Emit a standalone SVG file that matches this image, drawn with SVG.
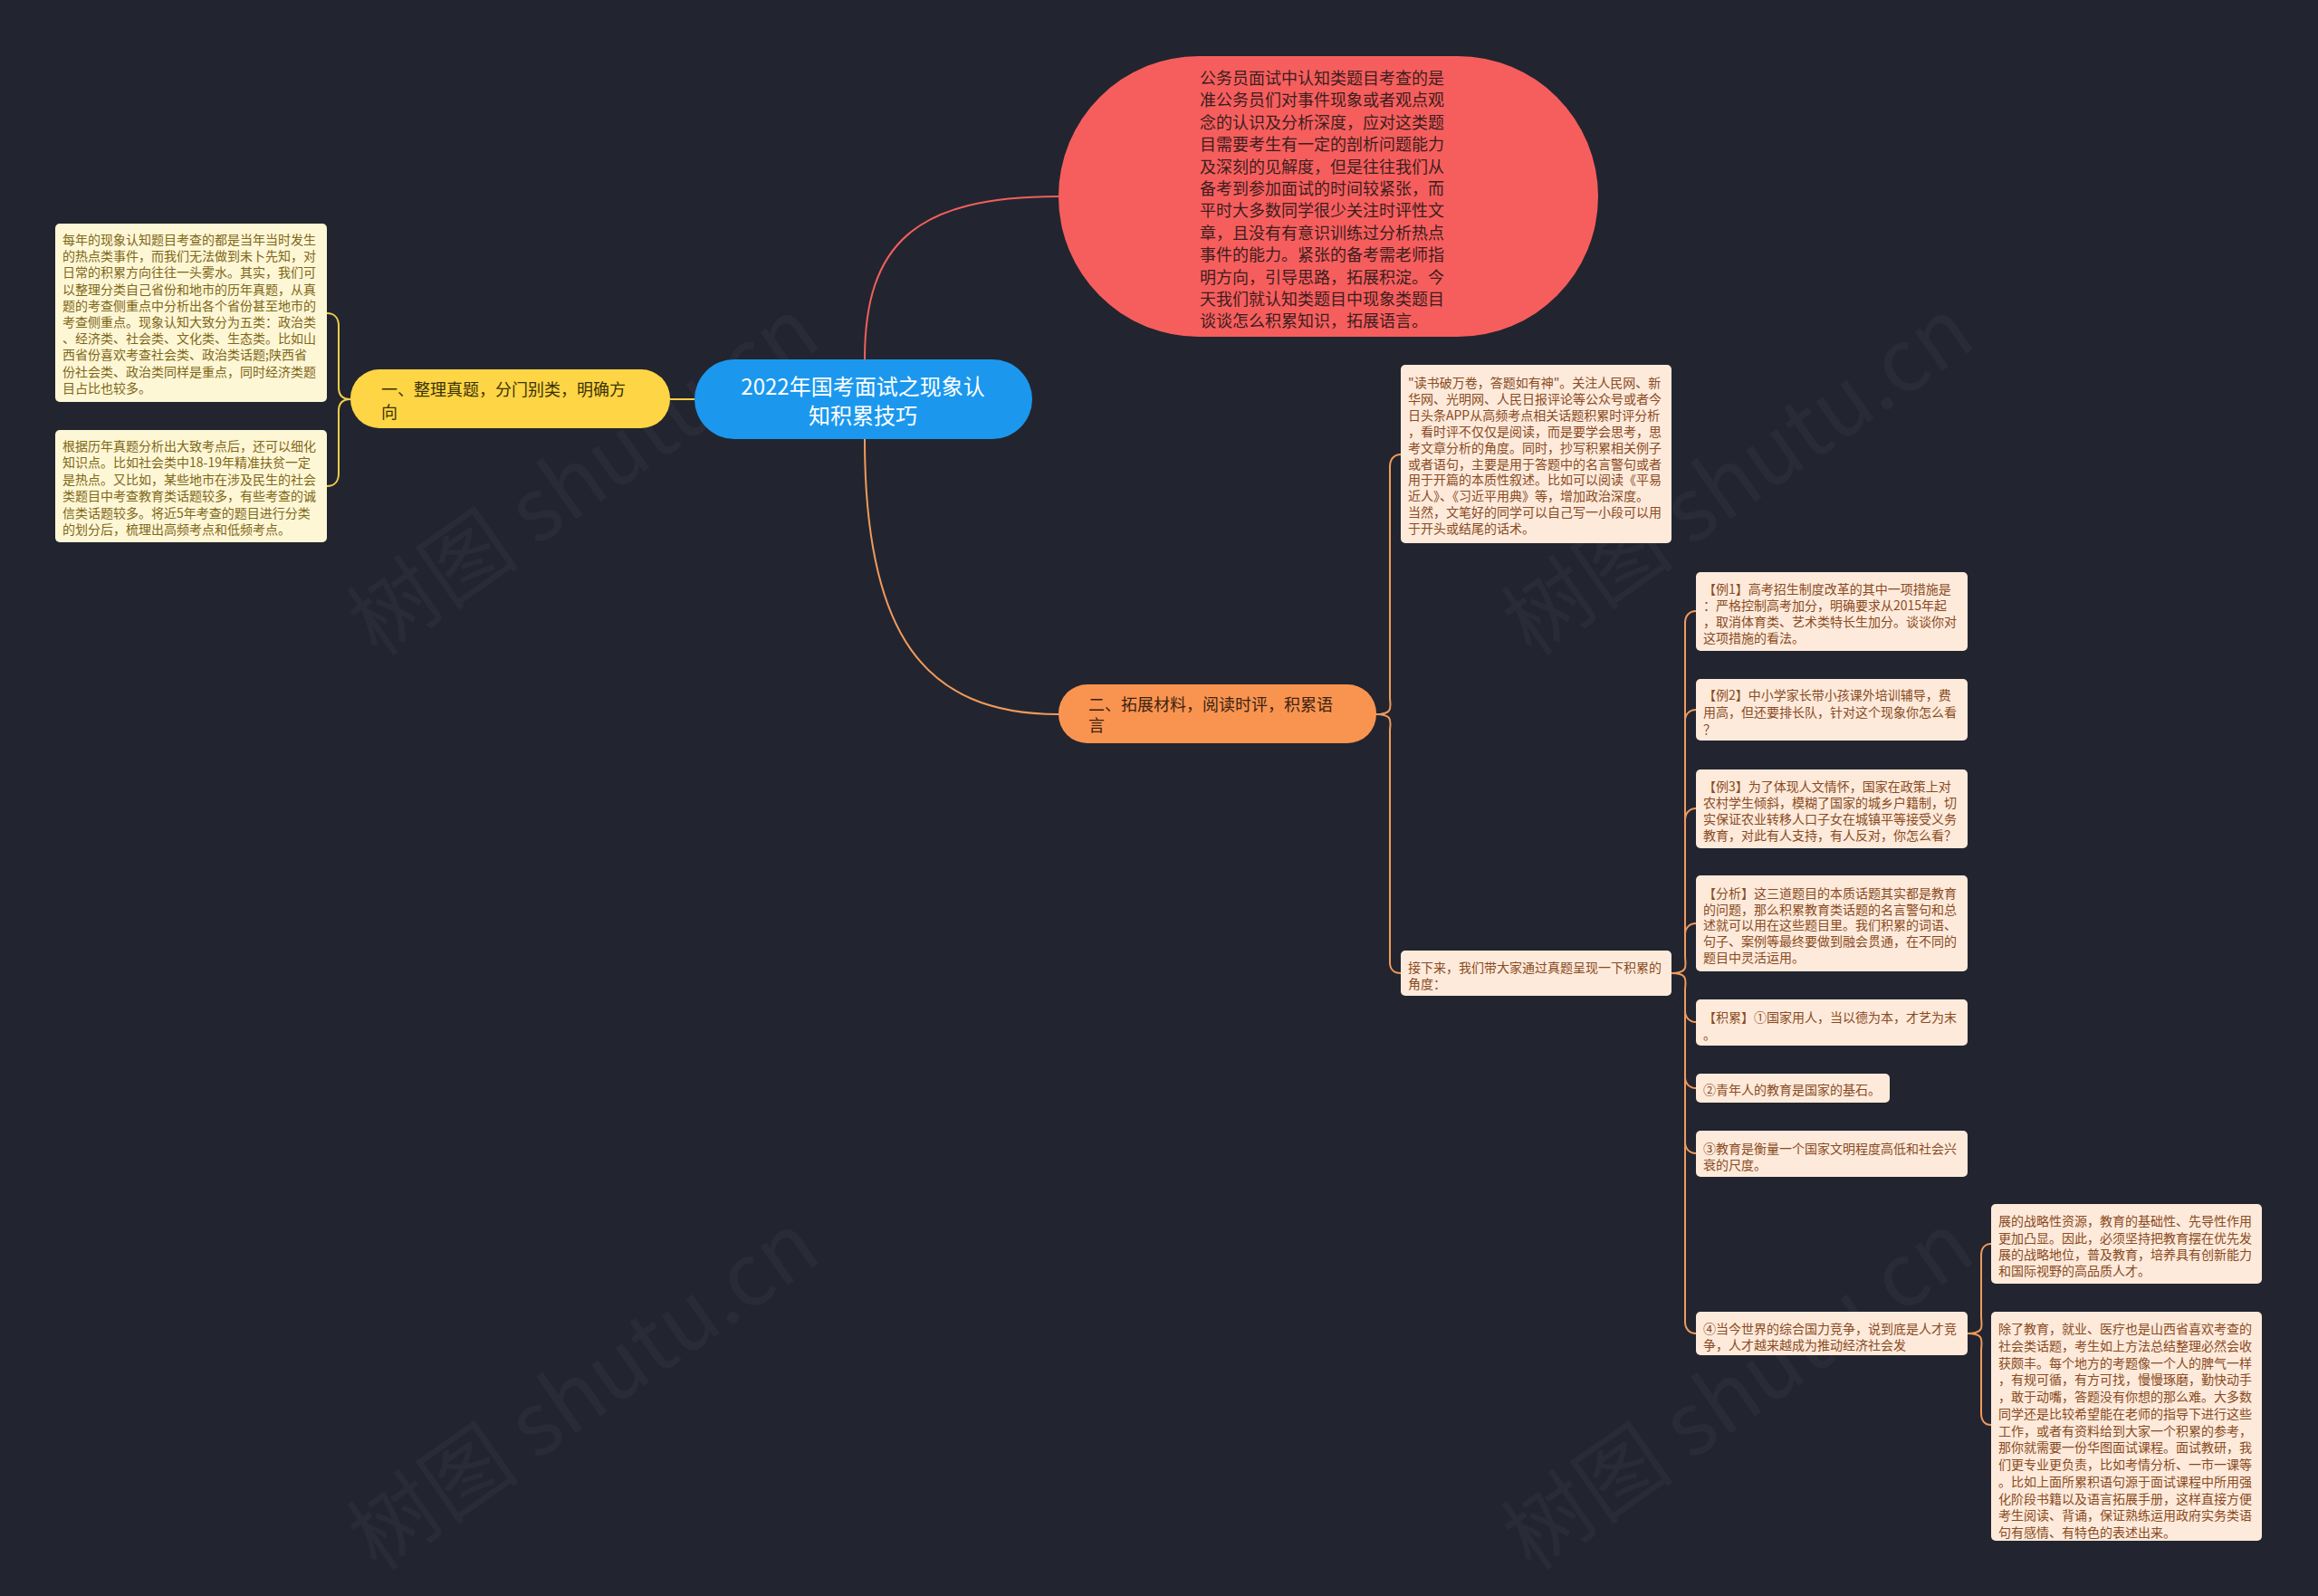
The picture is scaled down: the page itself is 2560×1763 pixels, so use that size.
<svg xmlns="http://www.w3.org/2000/svg" width="2560" height="1763" viewBox="0 0 2560 1763">
<style>
.cjk{font-family:"Noto Sans CJK SC","Noto Sans",sans-serif;}
.lbox{fill:#fef7d6;}
.ltxt{fill:#7f6716;font-size:14px;}
.rbox{fill:#fdeadb;}
.rtxt{fill:#8a4a22;font-size:14px;}
.ycon{fill:none;stroke:#f2cd48;stroke-width:2;}
.ocon{fill:none;stroke:#f29a5c;stroke-width:2;}
.rcon{fill:none;stroke:#f25f5c;stroke-width:2;}
.wm{fill:#ffffff;fill-opacity:0.035;font-size:96px;font-family:"Noto Sans CJK SC","DejaVu Serif",serif;}
text{dominant-baseline:central;}
</style>
<rect x="0" y="0" width="2560" height="1763" fill="#22252f"/>

<g id="watermarks">
<text class="wm" x="640" y="520" text-anchor="middle" transform="rotate(-35 640 520)">树图 shutu.cn</text>
<text class="wm" x="1915" y="520" text-anchor="middle" transform="rotate(-35 1915 520)">树图 shutu.cn</text>
<text class="wm" x="640" y="1530" text-anchor="middle" transform="rotate(-35 640 1530)">树图 shutu.cn</text>
<text class="wm" x="1915" y="1530" text-anchor="middle" transform="rotate(-35 1915 1530)">树图 shutu.cn</text>
</g>

<g id="connectors">
<path class="rcon" d="M955,397 C955,270 1010,217 1169,217"/>
<path class="ocon" d="M955,485 C955,700 1020,789 1169,789"/>
<path class="ycon" d="M767,441 L740,441"/>
<path class="ycon" d="M387,441 C378,441 374,436 374,428 L374,360 C374,351 369,346 361,346"/>
<path class="ycon" d="M387,441 C378,441 374,446 374,454 L374,523 C374,532 369,537 361,537"/>
<path class="ocon" d="M1520,789 C1540,789 1535,780 1535,770 L1535,515 C1535,507 1540,502 1547,502"/>
<path class="ocon" d="M1520,789 C1540,789 1535,798 1535,808 L1535,1063 C1535,1071 1540,1075 1547,1075"/>
<path class="ocon" d="M1846,1075 C1866,1075 1861,1066 1861,1056 L1861,688 C1861,680 1866,675 1873,675"/>
<path class="ocon" d="M1861,796 C1861,789 1866,784 1873,784"/>
<path class="ocon" d="M1861,906 C1861,898 1866,893 1873,893"/>
<path class="ocon" d="M1861,1032 C1861,1025 1866,1020 1873,1020"/>
<path class="ocon" d="M1846,1075 C1866,1075 1861,1084 1861,1094 L1861,1460 C1861,1468 1866,1473 1873,1473"/>
<path class="ocon" d="M1861,1117 C1861,1124 1866,1129 1873,1129"/>
<path class="ocon" d="M1861,1190 C1861,1197 1866,1202 1873,1202"/>
<path class="ocon" d="M1861,1262 C1861,1269 1866,1274 1873,1274"/>
<path class="ocon" d="M2173,1473 C2193,1473 2188,1464 2188,1454 L2188,1387 C2188,1379 2192,1374 2199,1374"/>
<path class="ocon" d="M2173,1473 C2193,1473 2188,1482 2188,1492 L2188,1561 C2188,1569 2192,1574 2199,1574"/>
</g>

<g id="root">
<rect x="767" y="397" width="373" height="88" rx="44" fill="#1b98ee"/>
<text class="cjk" x="953" y="425" text-anchor="middle" font-size="24" fill="#ffffff">2022年国考面试之现象认</text>
<text class="cjk" x="953" y="457" text-anchor="middle" font-size="24" fill="#ffffff">知积累技巧</text>
</g>

<g id="intro">
<rect x="1169" y="62" width="596" height="310" rx="155" fill="#f65e5d"/>
<text class="cjk" font-size="18" fill="#3b1d1d">
<tspan x="1325" y="85">公务员面试中认知类题目考查的是</tspan>
<tspan x="1325" y="109.4">准公务员们对事件现象或者观点观</tspan>
<tspan x="1325" y="133.8">念的认识及分析深度，应对这类题</tspan>
<tspan x="1325" y="158.2">目需要考生有一定的剖析问题能力</tspan>
<tspan x="1325" y="182.6">及深刻的见解度，但是往往我们从</tspan>
<tspan x="1325" y="207">备考到参加面试的时间较紧张，而</tspan>
<tspan x="1325" y="231.4">平时大多数同学很少关注时评性文</tspan>
<tspan x="1325" y="255.8">章，且没有有意识训练过分析热点</tspan>
<tspan x="1325" y="280.2">事件的能力。紧张的备考需老师指</tspan>
<tspan x="1325" y="304.6">明方向，引导思路，拓展积淀。今</tspan>
<tspan x="1325" y="329">天我们就认知类题目中现象类题目</tspan>
<tspan x="1325" y="353.4">谈谈怎么积累知识，拓展语言。</tspan>
</text>
</g>

<g id="branch1">
<rect x="387" y="408" width="353" height="65" rx="32" fill="#fed545"/>
<text class="cjk" font-size="18" fill="#3a3206">
<tspan x="421" y="429">一、整理真题，分门别类，明确方</tspan>
<tspan x="421" y="454">向</tspan>
</text>
</g>

<g id="b1-note1">
<rect class="lbox" x="61" y="247" width="300" height="197" rx="5"/>
<text class="cjk ltxt">
<tspan x="69" y="264">每年的现象认知题目考查的都是当年当时发生</tspan>
<tspan x="69" y="282.2">的热点类事件，而我们无法做到未卜先知，对</tspan>
<tspan x="69" y="300.4">日常的积累方向往往一头雾水。其实，我们可</tspan>
<tspan x="69" y="318.6">以整理分类自己省份和地市的历年真题，从真</tspan>
<tspan x="69" y="336.8">题的考查侧重点中分析出各个省份甚至地市的</tspan>
<tspan x="69" y="355">考查侧重点。现象认知大致分为五类：政治类</tspan>
<tspan x="69" y="373.2">、经济类、社会类、文化类、生态类。比如山</tspan>
<tspan x="69" y="391.4">西省份喜欢考查社会类、政治类话题;陕西省</tspan>
<tspan x="69" y="409.6">份社会类、政治类同样是重点，同时经济类题</tspan>
<tspan x="69" y="427.8">目占比也较多。</tspan>
</text>
</g>

<g id="b1-note2">
<rect class="lbox" x="61" y="475" width="300" height="124" rx="5"/>
<text class="cjk ltxt">
<tspan x="69" y="492">根据历年真题分析出大致考点后，还可以细化</tspan>
<tspan x="69" y="510.4">知识点。比如社会类中18-19年精准扶贫一定</tspan>
<tspan x="69" y="528.8">是热点。又比如，某些地市在涉及民生的社会</tspan>
<tspan x="69" y="547.2">类题目中考查教育类话题较多，有些考查的诚</tspan>
<tspan x="69" y="565.6">信类话题较多。将近5年考查的题目进行分类</tspan>
<tspan x="69" y="584">的划分后，梳理出高频考点和低频考点。</tspan>
</text>
</g>

<g id="branch2">
<rect x="1169" y="756" width="351" height="65" rx="32" fill="#f99450"/>
<text class="cjk" font-size="18" fill="#3d2212">
<tspan x="1202" y="777">二、拓展材料，阅读时评，积累语</tspan>
<tspan x="1202" y="800">言</tspan>
</text>
</g>

<g id="b2-read">
<rect class="rbox" x="1547" y="403" width="299" height="197" rx="5"/>
<text class="cjk rtxt">
<tspan x="1555" y="422">"读书破万卷，答题如有神"。关注人民网、新</tspan>
<tspan x="1555" y="439.9">华网、光明网、人民日报评论等公众号或者今</tspan>
<tspan x="1555" y="457.8">日头条APP从高频考点相关话题积累时评分析</tspan>
<tspan x="1555" y="475.7">，看时评不仅仅是阅读，而是要学会思考，思</tspan>
<tspan x="1555" y="493.6">考文章分析的角度。同时，抄写积累相关例子</tspan>
<tspan x="1555" y="511.5">或者语句，主要是用于答题中的名言警句或者</tspan>
<tspan x="1555" y="529.4">用于开篇的本质性叙述。比如可以阅读《平易</tspan>
<tspan x="1555" y="547.3">近人》、《习近平用典》等，增加政治深度。</tspan>
<tspan x="1555" y="565.2">当然，文笔好的同学可以自己写一小段可以用</tspan>
<tspan x="1555" y="583.1">于开头或结尾的话术。</tspan>
</text>
</g>

<g id="b2-next">
<rect class="rbox" x="1547" y="1050" width="299" height="50" rx="5"/>
<text class="cjk rtxt">
<tspan x="1555" y="1068">接下来，我们带大家通过真题呈现一下积累的</tspan>
<tspan x="1555" y="1086">角度：</tspan>
</text>
</g>

<g id="ex1">
<rect class="rbox" x="1873" y="632" width="300" height="87" rx="5"/>
<text class="cjk rtxt">
<tspan x="1881" y="650">【例1】高考招生制度改革的其中一项措施是</tspan>
<tspan x="1881" y="668">：严格控制高考加分，明确要求从2015年起</tspan>
<tspan x="1881" y="686">，取消体育类、艺术类特长生加分。谈谈你对</tspan>
<tspan x="1881" y="704">这项措施的看法。</tspan>
</text>
</g>

<g id="ex2">
<rect class="rbox" x="1873" y="750" width="300" height="68" rx="5"/>
<text class="cjk rtxt">
<tspan x="1881" y="767">【例2】中小学家长带小孩课外培训辅导，费</tspan>
<tspan x="1881" y="786">用高，但还要排长队，针对这个现象你怎么看</tspan>
<tspan x="1881" y="805">？</tspan>
</text>
</g>

<g id="ex3">
<rect class="rbox" x="1873" y="850" width="300" height="87" rx="5"/>
<text class="cjk rtxt">
<tspan x="1881" y="868">【例3】为了体现人文情怀，国家在政策上对</tspan>
<tspan x="1881" y="886">农村学生倾斜，模糊了国家的城乡户籍制，切</tspan>
<tspan x="1881" y="904">实保证农业转移人口子女在城镇平等接受义务</tspan>
<tspan x="1881" y="922">教育，对此有人支持，有人反对，你怎么看？</tspan>
</text>
</g>

<g id="analysis">
<rect class="rbox" x="1873" y="967" width="300" height="106" rx="5"/>
<text class="cjk rtxt">
<tspan x="1881" y="986">【分析】这三道题目的本质话题其实都是教育</tspan>
<tspan x="1881" y="1003.5">的问题，那么积累教育类话题的名言警句和总</tspan>
<tspan x="1881" y="1021">述就可以用在这些题目里。我们积累的词语、</tspan>
<tspan x="1881" y="1039">句子、案例等最终要做到融会贯通，在不同的</tspan>
<tspan x="1881" y="1057">题目中灵活运用。</tspan>
</text>
</g>

<g id="acc1">
<rect class="rbox" x="1873" y="1104" width="300" height="51" rx="5"/>
<text class="cjk rtxt">
<tspan x="1881" y="1123">【积累】①国家用人，当以德为本，才艺为末</tspan>
<tspan x="1881" y="1142">。</tspan>
</text>
</g>

<g id="acc2">
<rect class="rbox" x="1873" y="1186" width="214" height="32" rx="5"/>
<text class="cjk rtxt" x="1881" y="1203">②青年人的教育是国家的基石。</text>
</g>

<g id="acc3">
<rect class="rbox" x="1873" y="1249" width="300" height="51" rx="5"/>
<text class="cjk rtxt">
<tspan x="1881" y="1268">③教育是衡量一个国家文明程度高低和社会兴</tspan>
<tspan x="1881" y="1286">衰的尺度。</tspan>
</text>
</g>

<g id="acc4">
<rect class="rbox" x="1873" y="1449" width="300" height="48" rx="5"/>
<text class="cjk rtxt">
<tspan x="1881" y="1467">④当今世界的综合国力竞争，说到底是人才竞</tspan>
<tspan x="1881" y="1485">争，人才越来越成为推动经济社会发</tspan>
</text>
</g>

<g id="acc4-a">
<rect class="rbox" x="2199" y="1330" width="299" height="88" rx="5"/>
<text class="cjk rtxt">
<tspan x="2207" y="1348">展的战略性资源，教育的基础性、先导性作用</tspan>
<tspan x="2207" y="1366.5">更加凸显。因此，必须坚持把教育摆在优先发</tspan>
<tspan x="2207" y="1385">展的战略地位，普及教育，培养具有创新能力</tspan>
<tspan x="2207" y="1403">和国际视野的高品质人才。</tspan>
</text>
</g>

<g id="acc4-b">
<rect class="rbox" x="2199" y="1449" width="299" height="253" rx="5"/>
<text class="cjk rtxt">
<tspan x="2207" y="1467">除了教育，就业、医疗也是山西省喜欢考查的</tspan>
<tspan x="2207" y="1485.75">社会类话题，考生如上方法总结整理必然会收</tspan>
<tspan x="2207" y="1504.5">获颇丰。每个地方的考题像一个人的脾气一样</tspan>
<tspan x="2207" y="1523.25">，有规可循，有方可找，慢慢琢磨，勤快动手</tspan>
<tspan x="2207" y="1542">，敢于动嘴，答题没有你想的那么难。大多数</tspan>
<tspan x="2207" y="1560.75">同学还是比较希望能在老师的指导下进行这些</tspan>
<tspan x="2207" y="1579.5">工作，或者有资料给到大家一个积累的参考，</tspan>
<tspan x="2207" y="1598.25">那你就需要一份华图面试课程。面试教研，我</tspan>
<tspan x="2207" y="1617">们更专业更负责，比如考情分析、一市一课等</tspan>
<tspan x="2207" y="1635.75">。比如上面所累积语句源于面试课程中所用强</tspan>
<tspan x="2207" y="1654.5">化阶段书籍以及语言拓展手册，这样直接方便</tspan>
<tspan x="2207" y="1673.25">考生阅读、背诵，保证熟练运用政府实务类语</tspan>
<tspan x="2207" y="1692">句有感情、有特色的表述出来。</tspan>
</text>
</g>
</svg>
